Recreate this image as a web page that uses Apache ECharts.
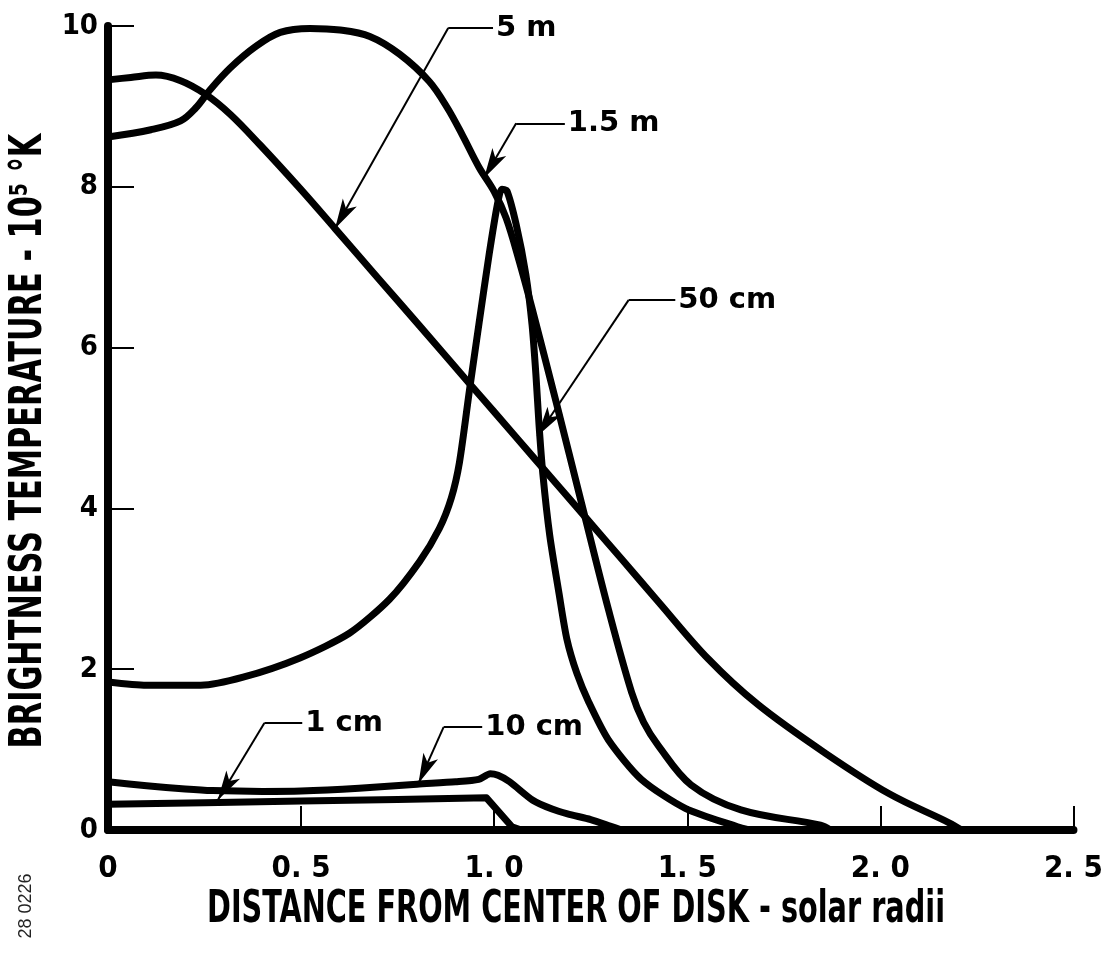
<!DOCTYPE html>
<html>
<head>
<meta charset="utf-8">
<script src="https://cdn.jsdelivr.net/npm/echarts@6/dist/echarts.min.js"></script>
<style>
  html, body { margin: 0; padding: 0; background: #fff; }
  #chart { width: 1106px; height: 958px; }
</style>
</head>
<body>
<div id="chart"></div>
<script>
// tick labels
var xTickLabels = ['0', '0. 5', '1. 0', '1. 5', '2. 0', '2. 5'];
var yTickLabels = ['0', '2', '4', '6', '8', '10'];

// curves: [distance (solar radii), brightness temperature (10^5 K)]
var curve5m = [[0, 9.33], [0.059, 9.36], [0.124, 9.39], [0.188, 9.32], [0.253, 9.15], [0.317, 8.90],
    [0.394, 8.52], [0.497, 7.98], [0.588, 7.48], [0.70, 6.86], [0.807, 6.27], [0.933, 5.57],
    [1.0, 5.20], [1.108, 4.60], [1.24, 3.87], [1.33, 3.37], [1.425, 2.84], [1.554, 2.13],
    [1.683, 1.56], [1.856, 0.96], [2.023, 0.45], [2.178, 0.09], [2.21, 0]];
var curve15m = [[0, 8.62], [0.111, 8.71], [0.188, 8.82], [0.227, 8.98], [0.265, 9.21], [0.317, 9.48],
    [0.381, 9.74], [0.446, 9.92], [0.523, 9.97], [0.601, 9.95], [0.678, 9.87], [0.755, 9.65],
    [0.832, 9.31], [0.879, 8.98], [0.918, 8.64], [0.961, 8.24], [1.0, 7.94], [1.031, 7.61],
    [1.064, 7.09], [1.098, 6.49], [1.16, 5.33], [1.227, 4.05], [1.296, 2.74], [1.356, 1.71],
    [1.387, 1.34], [1.425, 1.05], [1.51, 0.56], [1.639, 0.25], [1.845, 0.06], [1.87, 0]];
var curve50cm = [[0, 1.84], [0.1, 1.80], [0.24, 1.80], [0.35, 1.90], [0.497, 2.14], [0.626, 2.45],
    [0.729, 2.87], [0.807, 3.34], [0.858, 3.75], [0.889, 4.13], [0.910, 4.57], [0.936, 5.47],
    [0.961, 6.31], [0.987, 7.16], [1.008, 7.77], [1.02, 7.97], [1.033, 7.95], [1.057, 7.53],
    [1.082, 6.91], [1.098, 6.29], [1.108, 5.67], [1.116, 5.05], [1.126, 4.43], [1.144, 3.66],
    [1.168, 2.94], [1.188, 2.38], [1.214, 1.95], [1.245, 1.59], [1.296, 1.12], [1.381, 0.63],
    [1.495, 0.27], [1.63, 0.04], [1.66, 0]];
var curve10cm = [[0, 0.60], [0.1, 0.55], [0.2, 0.51], [0.27, 0.49], [0.4, 0.48], [0.5, 0.485],
    [0.65, 0.52], [0.8, 0.57], [0.9, 0.60], [0.96, 0.63], [0.99, 0.70], [1.01, 0.68], [1.04, 0.60],
    [1.1, 0.37], [1.15, 0.26], [1.19, 0.20], [1.25, 0.13], [1.30, 0.05], [1.33, 0]];
var curve1cm = [[0, 0.32], [0.25, 0.34], [0.5, 0.36], [0.75, 0.38], [0.98, 0.40], [1.046, 0.04], [1.07, 0]];

// callouts: label, arrow tip, elbow of the leader, end of the short horizontal
var calloutText = ['5 m', '1.5 m', '50 cm', '1 cm', '10 cm'];
var calloutTip = [[0.588, 7.48], [0.974, 8.11], [1.112, 4.9], [0.284, 0.37], [0.804, 0.58]];
var calloutElbow = [[0.881, 9.975], [1.057, 8.79], [1.348, 6.59], [0.405, 1.33], [0.869, 1.28]];
var calloutEnd = [[0.997, 9.975], [1.183, 8.79], [1.469, 6.59], [0.503, 1.33], [0.969, 1.28]];

var cond = '"DejaVu Sans Condensed", "DejaVu Sans", sans-serif';

function callout(i) {
    return {
        silent: true,
        symbol: ['none', 'none'],
        symbolSize: [12, 30],
        lineStyle: { color: '#000', width: 2, type: 'solid' },
        label: { show: false },
        data: [
            [{ coord: calloutElbow[i], symbol: 'none' }, { coord: calloutTip[i], symbol: 'arrow' }],
            [{ coord: calloutElbow[i] }, {
                coord: calloutEnd[i],
                label: {
                    show: true, position: 'end', distance: 3, formatter: calloutText[i],
                    color: '#000', fontSize: 29, fontWeight: 'bold', fontFamily: '"DejaVu Sans", sans-serif'
                }
            }]
        ]
    };
}

function curve(data, smooth, i) {
    return {
        type: 'line',
        data: data,
        smooth: smooth,
        showSymbol: false,
        lineStyle: { color: '#000', width: 7, join: 'round', cap: 'round' },
        markLine: callout(i)
    };
}

var chart = echarts.init(document.getElementById('chart'));
var option = {
    animation: false,
    backgroundColor: '#fff',
    grid: { left: 108, right: 26, top: 26, bottom: 128 },
    xAxis: {
        type: 'value', min: 0, max: 2.5, interval: 0.5,
        axisLine: { lineStyle: { color: '#000', width: 8 } },
        axisTick: { inside: true, length: 24, lineStyle: { color: '#000', width: 2 } },
        splitLine: { show: false },
        axisLabel: {
            formatter: function (v) { return xTickLabels[Math.round(v / 0.5)]; },
            color: '#000', fontSize: 31, fontWeight: 'bold', fontFamily: cond, margin: 23
        }
    },
    yAxis: {
        type: 'value', min: 0, max: 10, interval: 2,
        axisLine: { show: true, lineStyle: { color: '#000', width: 8 } },
        axisTick: { show: true, inside: true, length: 26, lineStyle: { color: '#000', width: 2 } },
        splitLine: { show: false },
        axisLabel: {
            formatter: function (v) { return yTickLabels[Math.round(v / 2)]; },
            color: '#000', fontSize: 29, fontWeight: 'bold', fontFamily: cond, margin: 10
        }
    },
    graphic: [{
        type: 'text', x: 576, y: 911, scaleX: 0.726,
        style: {
            text: 'DISTANCE FROM CENTER OF DISK - solar radii', fontSize: 44, fontWeight: 'bold',
            fontFamily: cond, fill: '#000', textAlign: 'center', textVerticalAlign: 'middle'
        }
    }, {
        type: 'text', x: 30, y: 441, rotation: Math.PI / 2, scaleX: 0.767,
        style: {
            text: 'BRIGHTNESS TEMPERATURE - 10\u2075 \u00b0K', fontSize: 44, fontWeight: 'bold',
            fontFamily: cond, fill: '#000', textAlign: 'center', textVerticalAlign: 'middle'
        }
    }, {
        type: 'text', x: 26, y: 906, rotation: Math.PI / 2,
        style: { text: '28 0226', fontSize: 18, fill: '#222', textAlign: 'center', textVerticalAlign: 'middle', fontFamily: '"Liberation Sans", sans-serif' }
    }],
    series: [
        curve(curve5m, 0.35, 0),
        curve(curve15m, 0.35, 1),
        curve(curve50cm, 0.25, 2),
        curve(curve1cm, false, 3),
        curve(curve10cm, 0.25, 4)
    ]
};
chart.setOption(option);
</script>
</body>
</html>
